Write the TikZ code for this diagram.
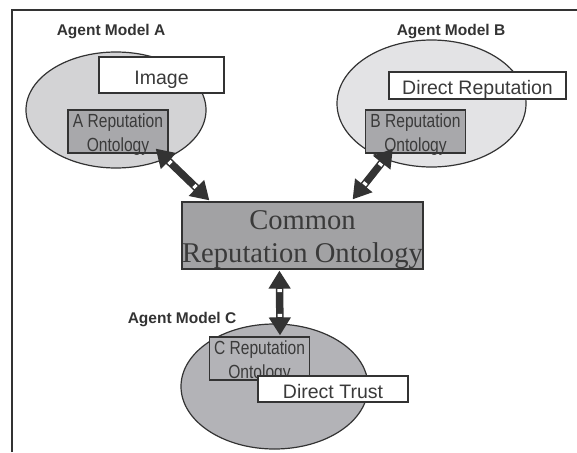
\documentclass[tikz,border=0pt]{standalone}
\usepackage{fontspec}
\setmainfont{Liberation Sans}
\newfontfamily\narrowsans[FakeStretch=0.82]{Liberation Sans}
\newfontfamily\serifface{Liberation Serif}
\usetikzlibrary{arrows.meta,calc,shapes.geometric}

\definecolor{inkgray}{HTML}{333333}
\definecolor{textgray}{HTML}{3A3A3A}
\definecolor{modelA}{HTML}{D3D3D5}
\definecolor{modelB}{HTML}{E3E3E5}
\definecolor{modelC}{HTML}{B3B3B7}
\definecolor{ontofill}{HTML}{A8A8AB}
\definecolor{commonfill}{HTML}{A2A2A4}

\tikzset{
  frameline/.style={draw=inkgray, line width=2pt},
  agentlabel/.style={anchor=base, font=\bfseries\fontsize{15.5}{18}\selectfont, text=inkgray, inner sep=0pt},
  agentmodel/.style={ellipse, draw=inkgray, line width=1.2pt, inner sep=0pt},
  conceptbox/.style={rectangle, draw=inkgray, fill=white, line width=1.2pt, inner sep=0pt,
    font=\fontsize{19.5}{22}\selectfont, text=textgray, text height=18pt, text depth=0pt},
  % two-line boxes: the node baseline is that of the last line
  ontobox/.style={rectangle, draw=inkgray, line width=1.2pt, inner sep=0pt, align=center,
    minimum width=100pt, minimum height=43pt,
    font=\narrowsans\fontsize{19}{23.5}\selectfont, text=textgray, text height=39pt, text depth=0pt},
  commonbox/.style={rectangle, draw=inkgray, fill=commonfill, line width=1.2pt, inner sep=0pt, align=center,
    font=\serifface\fontsize{28.6}{33}\selectfont, text=textgray, text height=53pt, text depth=0pt},
  link/.style={draw=inkgray, line width=7.5pt,
    {Triangle[length=18pt,width=21pt]}-{Triangle[length=18pt,width=21pt]}},
  linkmark/.style={draw=white, line width=4.5pt},
}

% thick double-headed connector with white marks behind both heads
\newcommand\ontolink[2]{%
  \draw[link] (#1) -- (#2);
  \draw[linkmark] ($(#1)!18.5pt!(#2)$) -- ($(#1)!21.5pt!(#2)$);
  \draw[linkmark] ($(#2)!18.5pt!(#1)$) -- ($(#2)!21.5pt!(#1)$);
}

\begin{document}
\begin{tikzpicture}[x=1pt, y=-1pt]
  \useasboundingbox (0,0) rectangle (577,452);
  \draw[frameline] (12,452) |- (577,10);

  % Agent model A
  \node[agentlabel] (labA) at (111,35) {Agent Model A};
  \node[agentmodel, fill=modelA, minimum width=180pt, minimum height=116pt] (modA) at (116,110) {};
  \node[conceptbox, minimum width=125pt, minimum height=36pt] (image) at (161.5,75) {Image};
  \node[ontobox, fill=ontofill] (arep) at (118,131.5) {A Reputation\\Ontology};

  % Agent model B
  \node[agentlabel] (labB) at (451,35) {Agent Model B};
  \node[agentmodel, fill=modelB, minimum width=189pt, minimum height=127pt] (modB) at (431.5,103.5) {};
  \node[conceptbox, minimum width=177pt, minimum height=27pt] (dirrep) at (477.5,85.5) {Direct Reputation};
  \node[ontobox, fill=ontofill] (brep) at (415.5,131.5) {B Reputation\\Ontology};

  % Shared ontology
  \node[commonbox, minimum width=241pt, minimum height=67pt] (common) at (302.5,235.5) {Common\\Reputation Ontology};

  % Agent model C
  \node[agentlabel] (labC) at (182,323) {Agent Model C};
  \node[agentmodel, fill=modelC, minimum width=187pt, minimum height=125pt] (modC) at (274.5,386.5) {};
  \node[ontobox, fill=modelC] (crep) at (259.5,358.5) {C Reputation\\Ontology};
  \node[conceptbox, minimum width=150pt, minimum height=26pt] (dirtrust) at (333,389) {Direct Trust};

  % connector end points
  \coordinate (aEnd) at ($(arep.south east)+(-13,-5)$);
  \coordinate (caEnd) at ($(common.north west)+(28,-1)$);
  \coordinate (bEnd) at ($(brep.south west)+(28,-5)$);
  \coordinate (cbEnd) at ($(common.north east)+(-71,-2)$);
  \coordinate (ccEnd) at ($(common.south west)+(98,1)$);
  \coordinate (cEnd) at ($(crep.north)+(20.5,-1)$);

  \ontolink{aEnd}{caEnd}
  \ontolink{bEnd}{cbEnd}
  \ontolink{ccEnd}{cEnd}
\end{tikzpicture}
\end{document}
